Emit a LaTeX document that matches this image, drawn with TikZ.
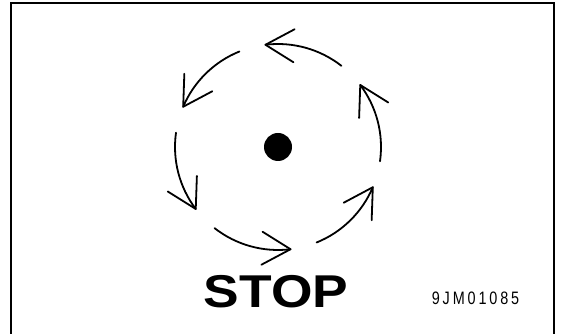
\documentclass[tikz,border=0pt]{standalone}
\usepackage{fontspec}
\setmainfont{Liberation Sans}
\newfontfamily\codefont[LetterSpace=20]{Liberation Sans}
\usetikzlibrary{calc}
\begin{document}
\begin{tikzpicture}[x=1pt,y=1pt,
  framestyle/.style={line width=2pt, black},
  arcstyle/.style={line width=1.8pt, black, line cap=round, line join=round}]
\useasboundingbox (0,0) rectangle (563,334);
\fill[white] (0,0) rectangle (563,334);
\draw[framestyle] (11,-2) -- (11,331) -- (554,331) -- (554,-2);
\coordinate (C) at (278,187);
\node[circle, fill=black, minimum size=28pt, inner sep=0pt] (dot) at (C) {};
\foreach \k in {0,...,5} {
  \pgfmathsetmacro{\s}{-8+60*\k}
  \pgfmathsetmacro{\e}{37+60*\k}
  \coordinate (tip\k) at ($(C)+(\e:103)$);
  \draw[arcstyle] ($(C)+(\s:103)$) arc[start angle=\s, end angle=\e, radius=103];
  \draw[arcstyle] ($(tip\k)+(\e-69:33)$) -- (tip\k) -- ($(tip\k)+(\e-129:33)$);
}
\node[inner sep=0pt, xscale=1.16, transform shape] (stop) at (276,42.5) {\fontsize{46}{46}\selectfont\bfseries STOP};
\node[inner sep=0pt, xscale=0.8, transform shape] (code) at (475.5,35.5) {\fontsize{18}{18}\selectfont\codefont 9JM01085};
\end{tikzpicture}
\end{document}
